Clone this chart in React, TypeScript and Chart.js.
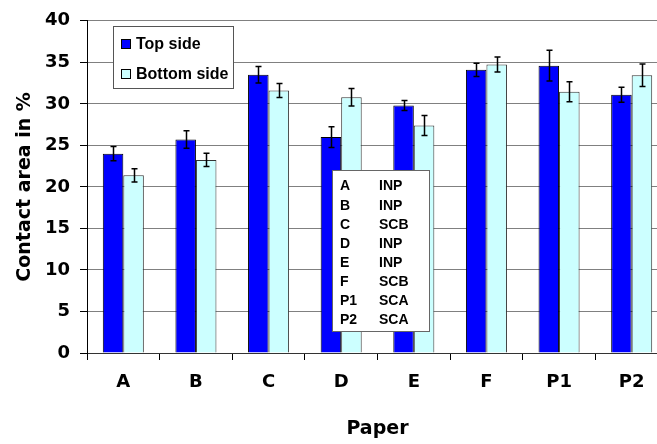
import { useEffect, useRef } from "react";
import { Chart, registerables } from "chart.js";

Chart.register(...registerables);

// Paper grades on the x axis
const papers = ["A", "B", "C", "D", "E", "F", "P1", "P2"];
// Coating type of each paper grade
const paperCodes = ["INP", "INP", "SCB", "INP", "INP", "SCB", "SCA", "SCA"];

// Contact area (%) and its spread for the two sides of the sheet
const topSide = [24.0, 25.7, 33.5, 26.0, 29.8, 34.1, 34.6, 31.1];
const topSideErr = [0.85, 1.05, 1.0, 1.25, 0.6, 0.8, 1.85, 0.9];
const bottomSide = [21.4, 23.25, 31.6, 30.8, 27.4, 34.75, 31.45, 33.45];
const bottomSideErr = [0.8, 0.8, 0.85, 1.05, 1.2, 0.9, 1.2, 1.35];

const yMin = 0;
const yMax = 40;
const yStep = 5;

const errorSets = [topSideErr, bottomSideErr];

const AXIS_FONT = "'DejaVu Sans', sans-serif";
const BOX_FONT = "Arial, 'Liberation Sans', sans-serif";

// Vertical whiskers with caps on top of each bar
const errorBars = {
  id: "errorBars",
  afterDatasetsDraw(chart: any) {
    const { ctx } = chart;
    const yScale = chart.scales.y;
    ctx.save();
    ctx.strokeStyle = "#000";
    ctx.lineWidth = 1.5;
    chart.data.datasets.forEach((ds: any, di: number) => {
      const errs = errorSets[di];
      const meta = chart.getDatasetMeta(di);
      meta.data.forEach((bar: any, i: number) => {
        const v = ds.data[i] as number;
        const e = errs[i];
        const x = Math.round(bar.x) + 0.5;
        const hi = yScale.getPixelForValue(v + e);
        const lo = yScale.getPixelForValue(v - e);
        ctx.beginPath();
        ctx.moveTo(x, hi);
        ctx.lineTo(x, lo);
        ctx.moveTo(x - 3, hi);
        ctx.lineTo(x + 3, hi);
        ctx.moveTo(x - 3, lo);
        ctx.lineTo(x + 3, lo);
        ctx.stroke();
      });
    });
    ctx.restore();
  },
};

// Framed legend and the paper/coating key inside the plot
const overlayBoxes = {
  id: "overlayBoxes",
  afterDraw(chart: any) {
    const { ctx } = chart;
    ctx.save();

    // legend
    ctx.fillStyle = "#fff";
    ctx.fillRect(113, 26, 121, 63);
    ctx.strokeStyle = "#555";
    ctx.lineWidth = 1;
    ctx.strokeRect(113.5, 26.5, 120, 62);
    ctx.font = `bold 16px ${BOX_FONT}`;
    ctx.textBaseline = "middle";
    ctx.textAlign = "left";
    chart.data.datasets.forEach((ds: any, di: number) => {
      const cy = 44 + di * 30;
      ctx.fillStyle = ds.backgroundColor;
      ctx.fillRect(121, cy - 5, 10, 10);
      ctx.strokeStyle = "#000";
      ctx.strokeRect(121.5, cy - 4.5, 9, 9);
      ctx.fillStyle = "#000";
      ctx.fillText(ds.label, 136, cy + 1);
    });

    // paper key
    ctx.fillStyle = "#fff";
    ctx.fillRect(332, 170, 98, 162);
    ctx.strokeStyle = "#666";
    ctx.strokeRect(332.5, 170.5, 97, 161);
    ctx.fillStyle = "#000";
    ctx.font = `bold 14px ${BOX_FONT}`;
    papers.forEach((p, i) => {
      const cy = 186.5 + i * 19.15;
      ctx.fillText(p, 340, cy);
      ctx.fillText(paperCodes[i], 379, cy);
    });

    ctx.restore();
  },
};

export default function App() {
  const canvasRef = useRef<HTMLCanvasElement | null>(null);

  useEffect(() => {
    const canvas = canvasRef.current;
    if (!canvas) return;
    const chart = new Chart(canvas, {
      type: "bar",
      data: {
        labels: papers,
        datasets: [
          {
            label: "Top side",
            data: topSide,
            backgroundColor: "#0000FF",
            borderColor: "#000",
            borderWidth: 1,
            categoryPercentage: 0.565,
            barPercentage: 1,
          },
          {
            label: "Bottom side",
            data: bottomSide,
            backgroundColor: "#CCFFFF",
            borderColor: "#333",
            borderWidth: 1,
            categoryPercentage: 0.565,
            barPercentage: 1,
          },
        ],
      },
      options: {
        responsive: false,
        animation: false,
        devicePixelRatio: 1,
        layout: { padding: { top: 13, right: 22, left: 0, bottom: 0 } },
        plugins: {
          legend: { display: false },
          tooltip: { enabled: false },
        },
        scales: {
          x: {
            grid: {
              display: true,
              drawOnChartArea: false,
              drawTicks: true,
              tickLength: 7,
              tickColor: "#000",
              offset: true,
            },
            border: { display: true, color: "#333", width: 1 },
            ticks: {
              color: "#000",
              padding: 12,
              font: { family: AXIS_FONT, size: 18, weight: "bold" },
            },
            title: {
              display: true,
              text: "Paper",
              color: "#000",
              padding: { top: 0, bottom: 4 },
              font: { family: AXIS_FONT, size: 19, weight: "bold" },
            },
            afterFit(scale: any) {
              scale.height = 91;
            },
          },
          y: {
            min: yMin,
            max: yMax,
            ticks: {
              stepSize: yStep,
              color: "#000",
              padding: 10,
              font: { family: AXIS_FONT, size: 18, weight: "bold" },
            },
            grid: {
              color: "#808080",
              lineWidth: 1,
              tickLength: 7,
              tickColor: "#000",
            },
            border: { display: true, color: "#000", width: 1 },
            title: {
              display: true,
              text: "Contact area in %",
              color: "#000",
              padding: { top: 14, bottom: 0 },
              font: { family: AXIS_FONT, size: 19, weight: "bold" },
            },
            afterFit(scale: any) {
              scale.width = 87;
            },
          },
        },
      },
      plugins: [errorBars, overlayBoxes],
    });
    return () => chart.destroy();
  }, []);

  return (
    <div
      style={{
        position: "fixed",
        left: 0,
        top: 0,
        width: 657,
        height: 444,
        overflow: "hidden",
        background: "#fff",
      }}
    >
      <canvas ref={canvasRef} width={690} height={444} style={{ display: "block" }} />
    </div>
  );
}
